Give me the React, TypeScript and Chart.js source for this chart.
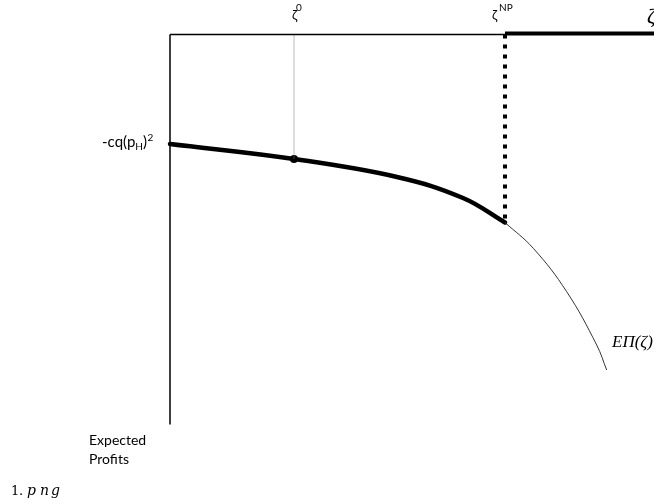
import React, { useEffect, useRef } from "react";
import { Chart, registerables } from "chart.js";

Chart.register(...registerables);

// Conceptual data: ζ on the horizontal axis, expected profit (negative, downward) on the vertical axis
const ZETA_MIN = -1.7;
const ZETA_MAX = 4.84;
const PROFIT_MIN = -4.695;
const PROFIT_MAX = 0.345;

const ZETA_0 = 1.24;
const ZETA_NP = 3.35;
const PROFIT_AT_ZETA_0 = -1.245;
const PROFIT_AT_ZETA_NP = -1.88;
const PROFIT_AXIS_BOTTOM = -3.9;
const PROFIT_START = -1.095; // -cq(pH)^2

// thick (chosen) branch of EΠ(ζ)
const zetaThick = [0, ZETA_0, 2.27, 2.93, ZETA_NP];
const profitThick = [PROFIT_START, PROFIT_AT_ZETA_0, -1.425, -1.635, PROFIT_AT_ZETA_NP];

// thin continuation of EΠ(ζ)
const zetaThin = [ZETA_NP, 3.633, 3.967, 4.267, 4.367];
const profitThin = [PROFIT_AT_ZETA_NP, -2.138, -2.572, -3.105, -3.355];

// labels
const labelZeta = "ζ";
const labelZeta0Sup = "0";
const labelZetaNPSup = "NP";
const labelCurve = "EΠ(ζ)";
const labelYAxis = ["Expected", "Profits"];
const labelCaption = ["1", ".", "p", "n", "g"];

const pts = (xs: number[], ys: number[]) => xs.map((x, i) => ({ x, y: ys[i] }));

const labelsPlugin = {
  id: "labels",
  afterDraw(chart: any) {
    const ctx = chart.ctx as CanvasRenderingContext2D;
    const xs = chart.scales.x;
    const ys = chart.scales.y;
    const px = (v: number) => xs.getPixelForValue(v);
    const py = (v: number) => ys.getPixelForValue(v);
    const sans = "Lato, 'Open Sans', sans-serif";
    const serif = "'Liberation Serif', 'DejaVu Serif', serif";
    ctx.save();
    ctx.fillStyle = "#000";
    ctx.textBaseline = "alphabetic";
    ctx.textAlign = "left";

    // ζ axis title (top right)
    ctx.font = `italic 21px ${serif}`;
    ctx.fillText(labelZeta, 647, 23);

    // ζ^0
    const x0 = px(ZETA_0);
    ctx.font = `13px ${sans}`;
    ctx.fillText(labelZeta, x0 - 2, 20);
    ctx.font = `10px ${sans}`;
    ctx.fillText(labelZeta0Sup, x0 + 2, 11);

    // ζ^NP
    const xn = px(ZETA_NP);
    ctx.font = `13px ${sans}`;
    ctx.fillText(labelZeta, xn - 13, 20);
    ctx.font = `10px ${sans}`;
    ctx.fillText(labelZetaNPSup, xn - 6, 11);

    // -cq(pH)^2
    const yStart = py(PROFIT_START);
    let x = 102;
    const base = yStart + 3;
    ctx.font = `15px ${sans}`;
    ctx.fillText("-cq(p", x, base);
    x += ctx.measureText("-cq(p").width;
    ctx.font = `10px ${sans}`;
    ctx.fillText("H", x, base + 3);
    x += ctx.measureText("H").width;
    ctx.font = `15px ${sans}`;
    ctx.fillText(")", x, base);
    x += ctx.measureText(")").width;
    ctx.font = `10px ${sans}`;
    ctx.fillText("2", x + 0.5, base - 6);

    // EΠ(ζ)
    ctx.font = `italic 17px ${serif}`;
    ctx.fillText(labelCurve, 612, 347);

    // Expected Profits
    ctx.font = `14px ${sans}`;
    ctx.fillText(labelYAxis[0], 89, 445);
    ctx.fillText(labelYAxis[1], 89, 464);

    // caption
    const cm = "'DejaVu Serif', serif";
    ctx.font = `13px ${cm}`;
    ctx.fillText(labelCaption[0], 11, 495);
    ctx.fillText(labelCaption[1], 19, 495);
    ctx.font = `italic 14px ${cm}`;
    ctx.fillText(labelCaption[2], 27, 495);
    ctx.fillText(labelCaption[3], 40, 495);
    ctx.fillText(labelCaption[4], 51, 495);
    ctx.restore();
  },
};

export default function App() {
  const ref = useRef<HTMLCanvasElement | null>(null);
  useEffect(() => {
    if (!ref.current) return;
    const line = (data: any[], extra: any) => ({
      type: "line",
      data,
      borderColor: "#000",
      backgroundColor: "#000",
      pointRadius: 0,
      fill: false,
      borderCapStyle: "butt",
      ...extra,
    });
    const chart = new Chart(ref.current, {
      type: "line",
      data: {
        datasets: [
          line([{ x: 0, y: 0 }, { x: 0, y: PROFIT_AXIS_BOTTOM }], { borderWidth: 1.5 }),
          line([{ x: 0, y: 0 }, { x: ZETA_NP, y: 0 }], { borderWidth: 1.3 }),
          line([{ x: ZETA_NP, y: 0.01 }, { x: ZETA_MAX, y: 0.01 }], { borderWidth: 4 }),
          line([{ x: ZETA_0, y: 0 }, { x: ZETA_0, y: PROFIT_AT_ZETA_0 }], {
            borderWidth: 1,
            borderColor: "#777",
            borderDash: [1, 1],
          }),
          line([{ x: ZETA_NP, y: 0 }, { x: ZETA_NP, y: PROFIT_AT_ZETA_NP }], {
            borderWidth: 4,
            borderDash: [4, 6],
          }),
          line(pts(zetaThin, profitThin), {
            borderWidth: 1,
            borderColor: "#333",
            tension: 0.4,
          }),
          line(pts(zetaThick, profitThick), {
            borderWidth: 4.5,
            tension: 0.4,
            borderCapStyle: "round",
          }),
          line([{ x: ZETA_0, y: PROFIT_AT_ZETA_0 }], {
            showLine: false,
            pointRadius: 4,
            pointBorderWidth: 0,
            pointBackgroundColor: "#000",
          }),
        ],
      },
      options: {
        animation: false,
        responsive: false,
        maintainAspectRatio: false,
        parsing: false,
        layout: { padding: 0, autoPadding: false },
        plugins: { legend: { display: false }, tooltip: { enabled: false } },
        events: [],
        scales: {
          x: { type: "linear", min: ZETA_MIN, max: ZETA_MAX, display: false },
          y: { type: "linear", min: PROFIT_MIN, max: PROFIT_MAX, display: false },
        },
      } as any,
      plugins: [labelsPlugin],
    } as any);
    return () => chart.destroy();
  }, []);
  return (
    <div style={{ position: "absolute", left: 0, top: 0, width: 654, height: 504, background: "#fff" }}>
      <canvas ref={ref} width={654} height={504} style={{ width: 654, height: 504 }} />
    </div>
  );
}
